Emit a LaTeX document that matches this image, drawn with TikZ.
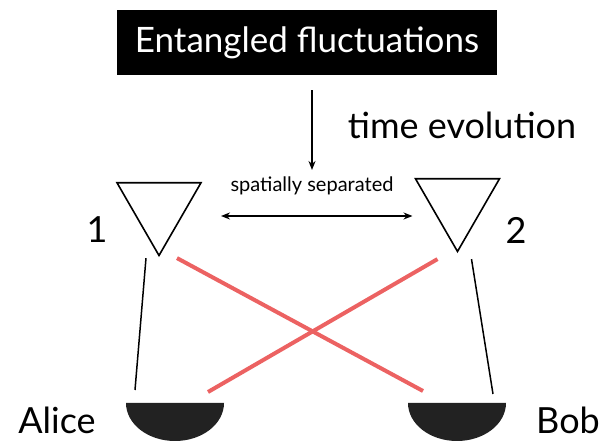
\documentclass[tikz,border=0pt]{standalone}
\usepackage{fontspec}
\setmainfont{Lato}
\usetikzlibrary{arrows.meta,shapes.geometric,positioning,calc}
\definecolor{crossred}{RGB}{236,98,98}
\definecolor{detgray}{RGB}{34,34,34}

\begin{document}
\begin{tikzpicture}[x=1pt,y=1pt,
    big/.style={font=\fontsize{36}{38}\selectfont,inner sep=0pt},
    small/.style={font=\fontsize{20}{22}\selectfont,inner sep=0pt},
    src/.style={draw,regular polygon,regular polygon sides=3,
                shape border rotate=180,minimum size=97pt,inner sep=0pt,
                line width=1.6pt},
    arr/.style={-{Stealth[length=9pt,width=7pt]},line width=1.5pt},
    dbl/.style={{Stealth[length=9pt,width=7pt]}-{Stealth[length=9pt,width=7pt]},
                line width=1.5pt},
    wire/.style={line width=1.5pt},
    cross/.style={crossred,line width=4pt},
    det/.style={fill=detgray},
  ]
    \useasboundingbox (0,0) rectangle (603,442);
    \node[big,font=\fontsize{35}{37}\selectfont,fill=black,text=white,
          minimum width=380pt,minimum height=65pt](fluct) at (307,399.5)
          {Entangled fluctuations};
    \node[big](evol) at (462,317){time evolution};
    \node[small](sep) at (312,256){spatially separated};
    \node[src](tri1) at (159,235){};
    \node[src](tri2) at (457.5,239){};
    \node[big](one) at (97,212){1};
    \node[big](two) at (516,212){2};
    \coordinate (alice) at (175,39);
    \coordinate (bob) at (457,39);
    \node[big](alicelbl) at (57,22){Alice};
    \node[big](boblbl) at (568,22){Bob};
    \fill[det] ($(alice)+(-49,0)$) arc[start angle=180,end angle=360,
      x radius=49,y radius=38] -- cycle;
    \fill[det] ($(bob)+(-49,0)$) arc[start angle=180,end angle=360,
      x radius=49,y radius=38] -- cycle;
    \draw[arr] ([xshift=5pt,yshift=-15pt]fluct.south)
      -- ([xshift=5pt]fluct.south |- 0,272);
    \draw[dbl,shorten <=62pt,shorten >=45pt]
      ([yshift=-9pt]tri1.center) -- ([yshift=-13pt]tri2.center);
    \draw[wire] ([shift={(-13,-1)}]tri1.corner 1) -- ([shift={(-40,13)}]alice);
    \draw[wire] ([shift={(14,-6)}]tri2.corner 1) -- ([shift={(36,9)}]bob);
    \draw[cross] ([shift={(18,-1)}]tri1.corner 1) -- ([shift={(-34,12)}]bob);
    \draw[cross] ([shift={(-20,-6)}]tri2.corner 1) -- ([shift={(33,11)}]alice);
  \end{tikzpicture}
\end{document}
